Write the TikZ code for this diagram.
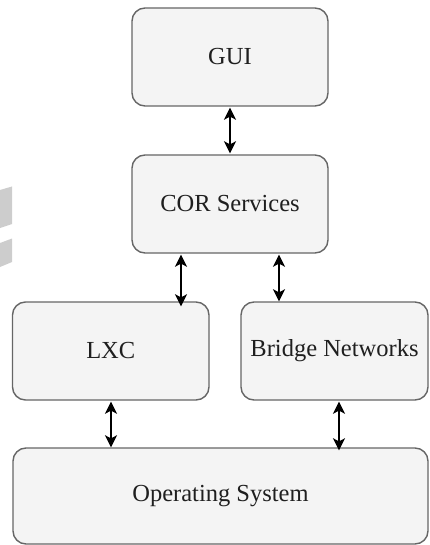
\documentclass[tikz,border=0pt]{standalone}
\usepackage{fontspec}
\setmainfont{Liberation Serif}
\usetikzlibrary{arrows.meta}
\definecolor{boxfill}{HTML}{F4F4F4}
\definecolor{boxline}{HTML}{666666}
\definecolor{markgray}{HTML}{CDCDCD}
\tikzset{
  block/.style={draw=boxline, fill=boxfill, line width=1.4pt, rounded corners=13pt,
    rectangle, inner sep=0pt, text=black!88,
    font=\fontsize{24.5}{29}\selectfont},
  biarrow/.style={line width=1.7pt, {Stealth[length=12pt,width=12pt,inset=3pt]}-{Stealth[length=12pt,width=12pt,inset=3pt]}}
}
\begin{document}
\begin{tikzpicture}[x=1pt,y=-1pt]
\useasboundingbox (0,0) rectangle (429,545);
% grey stripes at the left edge
\fill[markgray] (0,190) -- (12,186.5) -- (12,224) -- (0,228) -- cycle;
\fill[markgray] (0,243) -- (12,238.5) -- (12,262) -- (0,267) -- cycle;
% layers
\node[block, minimum width=196pt, minimum height=98pt] (gui) at (230,57) {GUI};
\node[block, minimum width=196pt, minimum height=98pt] (cor) at (230,204) {COR Services};
\node[block, minimum width=196.5pt, minimum height=98pt] (lxc) at (110.75,351) {LXC};
\node[block, minimum width=187pt, minimum height=98pt] (br) at (334.5,351) {Bridge Networks};
\node[block, minimum width=415pt, minimum height=96pt] (os) at (220.5,496) {Operating System};
% links between layers
\draw[biarrow] ([yshift=-1pt]gui.south) -- ([yshift=1pt]cor.north);
\draw[biarrow] ([xshift=-49pt,yshift=-1pt]cor.south) -- ([xshift=-49pt,yshift=-5pt]cor.south |- lxc.north);
\draw[biarrow] ([xshift=49pt,yshift=-1pt]cor.south) -- ([xshift=49pt]cor.south |- br.north);
\draw[biarrow] ([xshift=0.25pt,yshift=-1pt]lxc.south) -- ([xshift=0.25pt]lxc.south |- os.north);
\draw[biarrow] ([xshift=4.5pt,yshift=-1pt]br.south) -- ([xshift=4.5pt,yshift=-3pt]br.south |- os.north);
\end{tikzpicture}
\end{document}
